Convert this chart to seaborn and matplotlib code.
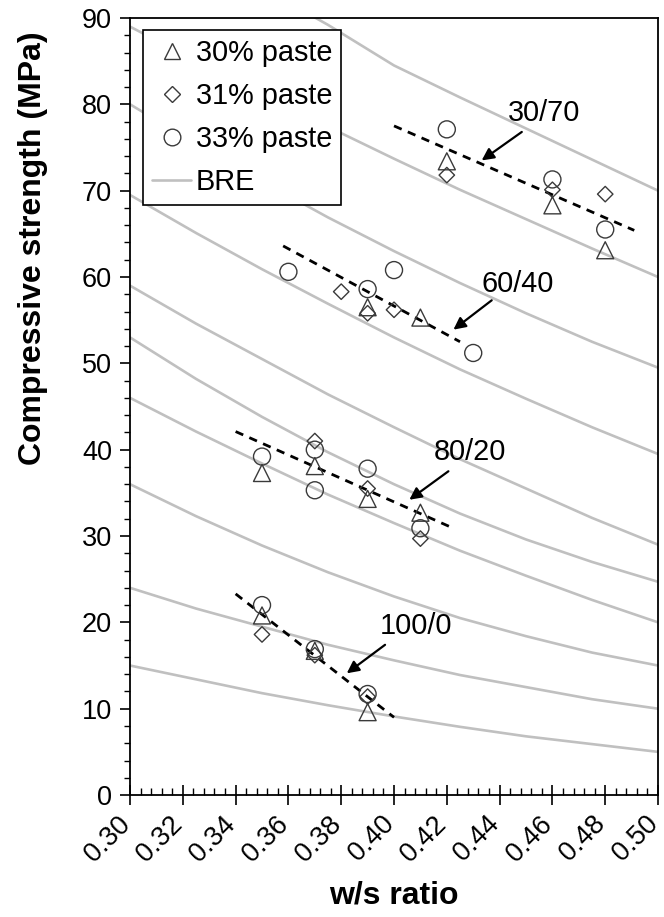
import numpy as np
import pandas as pd
import matplotlib
matplotlib.use("Agg")
import matplotlib.pyplot as plt
from matplotlib.lines import Line2D
from matplotlib.ticker import MultipleLocator, FormatStrFormatter
from matplotlib.transforms import ScaledTranslation
import seaborn as sns

sns.set_theme(style="white")
plt.rcParams["font.family"] = ["Liberation Sans", "DejaVu Sans"]
plt.rcParams.update({
    "text.color": "black",
    "axes.labelcolor": "black",
    "xtick.color": "black",
    "ytick.color": "black",
})

# ---- measured cube strengths (w/s ratio, MPa) per paste content ----
ws_30 = [0.35, 0.37, 0.39, 0.35, 0.37, 0.39, 0.41, 0.39, 0.41, 0.42, 0.46, 0.48]
fc_30 = [20.8, 16.7, 9.6, 37.3, 38.1, 34.3, 32.7, 56.5, 55.3, 73.4, 68.3, 63.1]

ws_31 = [0.35, 0.37, 0.39, 0.37, 0.39, 0.41, 0.38, 0.39, 0.40, 0.42, 0.46, 0.48]
fc_31 = [18.6, 16.2, 11.4, 41.0, 35.5, 29.7, 58.3, 55.8, 56.2, 71.8, 70.1, 69.6]

ws_33 = [0.35, 0.37, 0.39, 0.35, 0.37, 0.37, 0.39, 0.41, 0.36, 0.39, 0.40, 0.43,
         0.42, 0.46, 0.48]
fc_33 = [22.0, 16.9, 11.7, 39.2, 40.0, 35.3, 37.8, 30.9, 60.6, 58.6, 60.8, 51.2,
         77.1, 71.3, 65.5]

# ---- BRE design curves ----
bre_ws = [0.300, 0.325, 0.350, 0.375, 0.400, 0.425, 0.450, 0.475, 0.500]
bre_curves = [
    [None, None, 93.5, 89.2, 84.5, 80.8, 77.2, 73.6, 70.0],
    [89.0, 85.0, 81.2, 77.4, 73.7, 70.1, 66.7, 63.3, 60.0],
    [80.0, 75.4, 71.1, 66.9, 63.0, 59.3, 55.8, 52.5, 49.5],
    [69.5, 65.1, 60.9, 56.9, 53.0, 49.3, 45.9, 42.6, 39.5],
    [59.0, 54.6, 50.5, 46.4, 42.6, 38.9, 35.5, 32.1, 29.0],
    [53.0, 48.2, 43.8, 39.7, 36.0, 32.6, 29.6, 27.0, 24.7],
    [46.0, 42.1, 38.4, 34.8, 31.5, 28.3, 25.4, 22.6, 20.0],
    [36.0, 32.3, 28.9, 25.8, 23.0, 20.5, 18.4, 16.5, 15.0],
    [24.0, 21.6, 19.5, 17.4, 15.6, 13.9, 12.5, 11.1, 10.0],
    [15.0, 13.4, 11.8, 10.4, 9.1, 7.9, 6.8, 5.9, 5.0],
]

# ---- trend lines per binder blend (start/end) ----
blends = ["100/0", "80/20", "60/40", "30/70"]
trend_ws = [[0.340, 0.400], [0.340, 0.421], [0.358, 0.425], [0.400, 0.491]]
trend_fc = [[23.3, 9.0], [42.1, 31.1], [63.6, 52.5], [77.5, 65.4]]

# blend label positions and arrow tail/head
label_xy = [(0.4083, 19.6), (0.4286, 39.7), (0.4468, 59.2), (0.4570, 79.0)]
arrow_tail = [(0.3966, 17.4), (0.4206, 37.5), (0.4370, 57.3), (0.4484, 76.8)]
arrow_head = [(0.3821, 14.1), (0.4058, 34.2), (0.4225, 53.9), (0.4332, 73.5)]

BRE_GREY = "#c0c0c0"
EDGE = "#3a3a3a"
FS_TICK = 19.5
FS_TEXT = 20.8

fig = plt.figure(figsize=(6.64, 9.17), dpi=100)
ax = fig.add_axes([0.1958, 0.1330, 0.7952, 0.8474])

for vals in bre_curves:
    df = pd.DataFrame({"ws": bre_ws, "fc": vals}).dropna()
    sns.lineplot(data=df, x="ws", y="fc", ax=ax, color=BRE_GREY, lw=1.9,
                 estimator=None, sort=False, zorder=1)

for xs, ys in zip(trend_ws, trend_fc):
    sns.lineplot(x=xs, y=ys, ax=ax, color="black", lw=2.0,
                 linestyle=(0, (3.0, 2.4)), estimator=None, zorder=3)

groups = [
    (ws_30, fc_30, "^", 150),
    (ws_31, fc_31, "D", 62),
    (ws_33, fc_33, "o", 150),
]
for xs, ys, mk, s in groups:
    sns.scatterplot(x=xs, y=ys, ax=ax, marker=mk, s=s, facecolor="none",
                    edgecolor=EDGE, linewidth=1.0, zorder=4)

for name, lxy, tail, head in zip(blends, label_xy, arrow_tail, arrow_head):
    ax.text(lxy[0], lxy[1], name, ha="center", va="center", fontsize=FS_TEXT,
            color="black", zorder=6)
    ax.annotate("", xy=head, xytext=tail,
                arrowprops=dict(arrowstyle="-|>", color="black", lw=1.6,
                                mutation_scale=18, shrinkA=0, shrinkB=0),
                zorder=6)

ax.set_xlim(0.30, 0.50)
ax.set_ylim(0, 90)
ax.xaxis.set_major_locator(MultipleLocator(0.02))
ax.xaxis.set_minor_locator(MultipleLocator(0.004))
ax.xaxis.set_major_formatter(FormatStrFormatter("%.2f"))
ax.yaxis.set_major_locator(MultipleLocator(10))
ax.yaxis.set_minor_locator(MultipleLocator(2))

for sp in ax.spines.values():
    sp.set_color("black")
    sp.set_linewidth(1.3)

ax.tick_params(axis="x", which="major", direction="inout", length=14, width=1.2,
               bottom=True, labelsize=FS_TICK, pad=4)
ax.tick_params(axis="x", which="minor", direction="in", length=5, width=1.0,
               bottom=True)
ax.tick_params(axis="y", which="major", direction="out", length=7, width=1.2,
               left=True, labelsize=FS_TICK, pad=6)
ax.tick_params(axis="y", which="minor", direction="out", length=4, width=1.0,
               left=True)

# rotated w/s tick labels, nudged down and slightly left
shift = ScaledTranslation(-4 / 100, -10 / 100, fig.dpi_scale_trans)
for lab in ax.get_xticklabels():
    lab.set_rotation(45)
    lab.set_ha("right")
    lab.set_va("center")
    lab.set_rotation_mode("anchor")
    lab.set_transform(lab.get_transform() + shift)

ax.set_xlabel("w/s ratio", fontsize=23, fontweight="bold")
ax.xaxis.label.set_va("center")
ax.xaxis.set_label_coords(0.5, -0.1287)
ax.set_ylabel("Compressive strength (MPa)", fontsize=23, fontweight="bold")
ax.yaxis.label.set_va("center")
ax.yaxis.set_label_coords(-0.184, 0.704)

handles = [
    Line2D([], [], ls="none", marker="^", ms=12, mfc="none", mec=EDGE, mew=1.0),
    Line2D([], [], ls="none", marker="D", ms=8, mfc="none", mec=EDGE, mew=1.0),
    Line2D([], [], ls="none", marker="o", ms=12, mfc="none", mec=EDGE, mew=1.0),
    Line2D([], [], color=BRE_GREY, lw=1.9),
]
leg = ax.legend(handles, ["30% paste", "31% paste", "33% paste", "BRE"],
                loc="upper left", bbox_to_anchor=(0.0246, 0.9846),
                borderaxespad=0, fontsize=FS_TEXT, frameon=True, fancybox=False,
                framealpha=1, edgecolor="black", handlelength=1.35,
                handletextpad=0.15, labelspacing=0.52, borderpad=0.32)
leg.get_frame().set_linewidth(1.2)
leg.set_zorder(10)

fig.savefig("out.png", dpi=100)
